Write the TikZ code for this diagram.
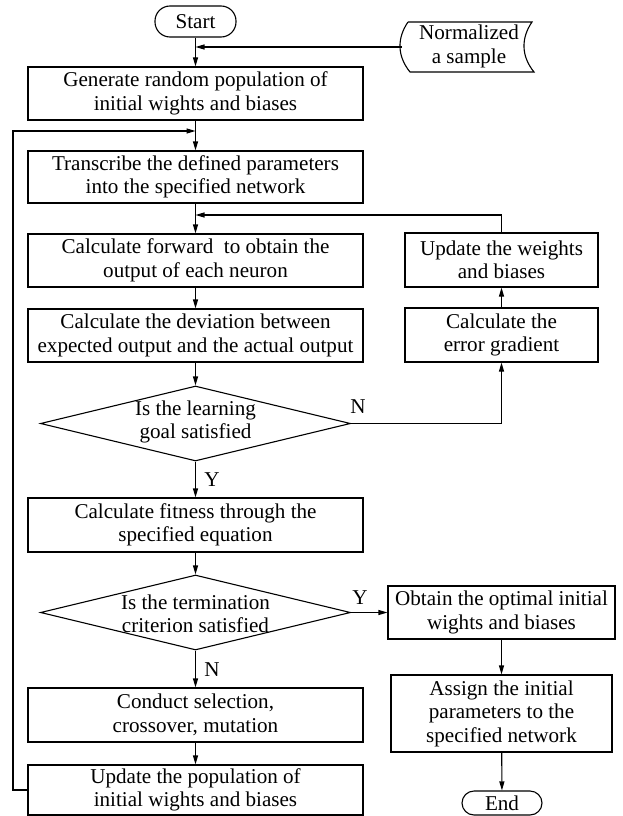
\documentclass[tikz,border=0pt]{standalone}
\usepackage{fontspec}
\setmainfont{Liberation Serif}
\usetikzlibrary{shapes.geometric,arrows.meta}
\begin{document}
\begin{tikzpicture}[x=1pt,y=-1pt,
  every node/.style={font=\fontsize{21.1}{23.5}\selectfont},
  line/.style={line width=1.1pt},
  arr/.style={line width=1.1pt,-{Triangle[length=9pt,width=5pt]}},
  box/.style={draw,line width=1.1pt,align=center,inner sep=0pt,minimum width=335pt,minimum height=53pt},
  rbox/.style={box,minimum width=193pt,minimum height=54pt},
  term/.style={draw,line width=1.1pt,rounded corners=15pt,minimum width=81pt,minimum height=31pt,inner sep=0pt},
  dia/.style={draw,line width=1.1pt,diamond,minimum width=310pt,minimum height=75pt,inner sep=0pt},
  lbl/.style={inner sep=0pt}
]
\useasboundingbox (0,0) rectangle (623,816);
% main column
\node[term] (start) at (195.5,21.5) {Start};
\node[box] (gen) at (195.5,93.5) {Generate random population of\\initial wights and biases};
\node[box,minimum height=52pt] (trans) at (195.5,177) {Transcribe the defined parameters\\into the specified network};
\node[box] (fwd) at (195.5,260.5) {Calculate forward\ \ to obtain the\\output of each neuron};
\node[box] (dev) at (195.5,335.5) {Calculate the deviation between\\expected output and the actual output};
\node[dia] (d1) at (195.5,423.5) {};
\node[align=center,lbl] (d1t) at (195.5,422) {Is the learning\\goal satisfied};
\node[box,minimum height=54pt] (fit) at (195.5,525) {Calculate fitness through the\\specified equation};
\node[dia] (d2) at (195.5,612.5) {};
\node[align=center,lbl] (d2t) at (195.5,614) {Is the termination\\criterion satisfied};
\node[box,minimum height=54pt] (cond) at (195.5,715) {Conduct selection,\\crossover, mutation};
\node[box,minimum height=50pt] (upd) at (195.5,790) {Update the population of\\initial wights and biases};
% right column
\node[rbox] (updw) at (501.5,260) {Update the weights\\and biases};
\node[rbox] (err) at (501.5,335) {Calculate the\\error gradient};
\node[box,minimum width=227pt] (obt) at (501.5,612.5) {Obtain the optimal initial\\wights and biases};
\node[box,minimum width=221pt,minimum height=77pt] (asg) at (501.5,713.5) {Assign the initial\\parameters to the\\specified network};
\node[term,minimum width=80pt,minimum height=24pt,rounded corners=12pt] (end) at (502,803) {End};
% normalized sample (tape shape)
\coordinate (n1) at (408,22);
\coordinate (n2) at (532,22);
\coordinate (n3) at (534,72);
\coordinate (n4) at (410,72);
\draw[line] (n1) -- (n2) .. controls (521,38) and (521,56) .. (n3) -- (n4) .. controls (397,56) and (397,38) .. (n1);
\node[align=center,lbl] (norm) at (469,46.5) {Normalized\\a sample};
\coordinate (nw) at (402,47);
\coordinate (j1) at (195.5,47);
% connectors
\draw[arr] (start) -- (gen);
\draw[arr] (nw) -- (j1);
\draw[arr] (gen) -- (trans);
\coordinate (l1) at (13,790);
\coordinate (l2) at (13,131);
\coordinate (l3) at (195.5,131);
\draw[arr] (upd.west) -- (l1) -- (l2) -- (l3);
\draw[arr] (trans) -- (fwd);
\coordinate (r1) at (501.5,215);
\coordinate (r2) at (195.5,215);
\draw[arr] (updw.north) -- (r1) -- (r2);
\draw[arr] (fwd) -- (dev);
\draw[arr] (dev) -- (d1.north);
\draw[arr] (d1.east) -| (err.south);
\node[lbl] (nl1) at (358,407) {N};
\draw[arr] (err) -- (updw);
\draw[arr] (d1.south) -- (fit);
\node[lbl] (yl1) at (212,480) {Y};
\draw[arr] (fit) -- (d2.north);
\draw[arr] (d2.east) -- (obt.west);
\node[lbl] (yl2) at (360,598) {Y};
\draw[arr] (d2.south) -- (cond);
\node[lbl] (nl2) at (212,670) {N};
\draw[arr] (cond) -- (upd);
\draw[arr] (obt) -- (asg);
\draw[arr] (asg) -- (end);
\end{tikzpicture}
\end{document}
